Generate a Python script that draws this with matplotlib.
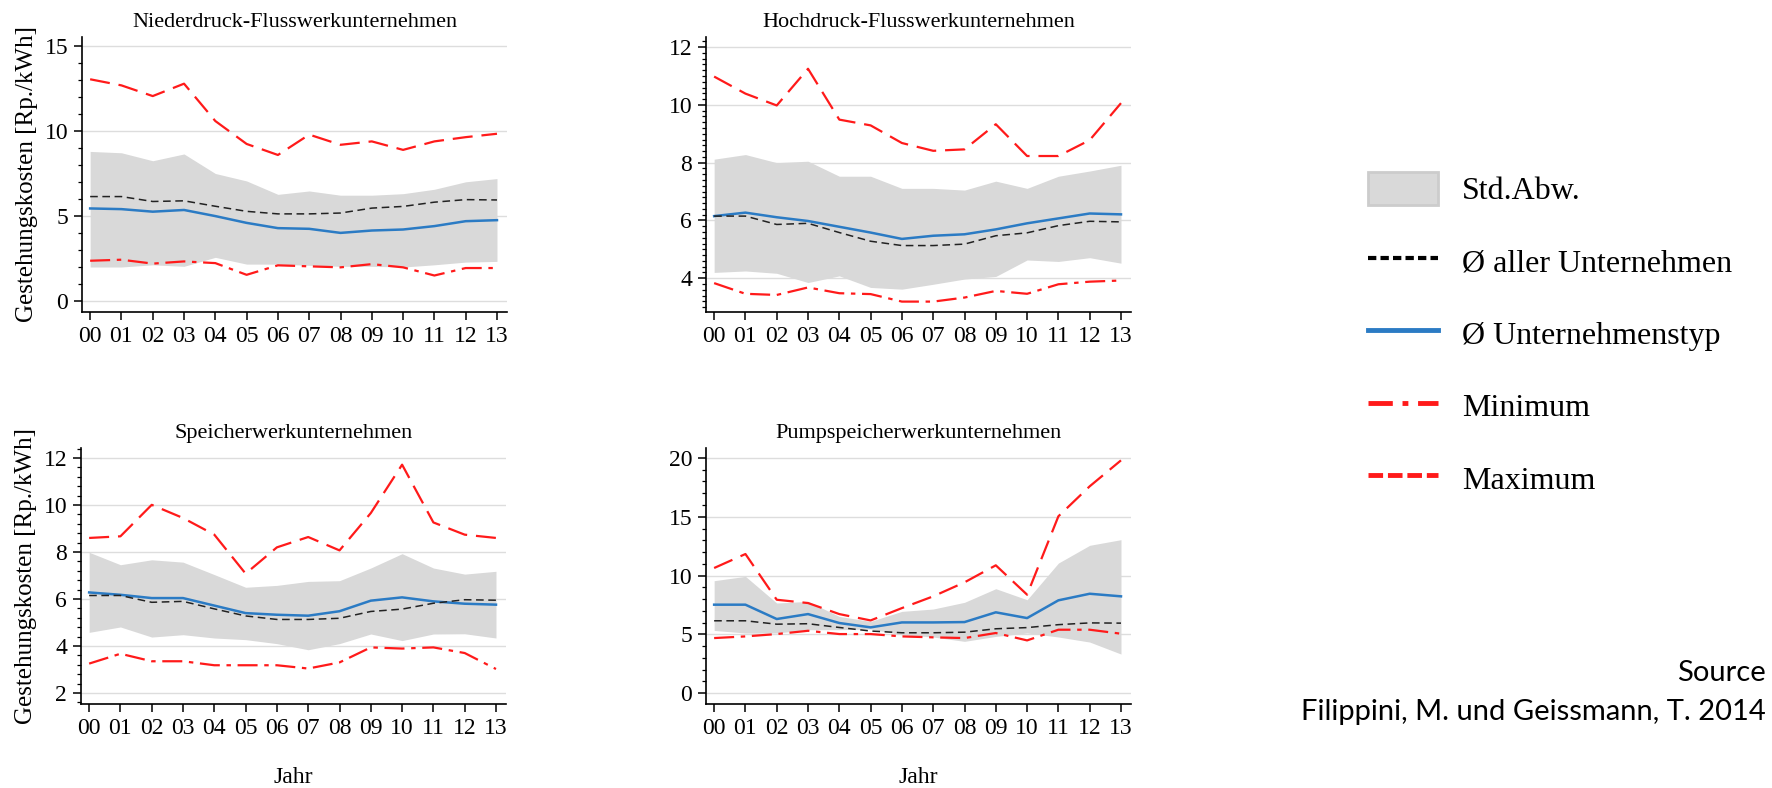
import numpy as np
import matplotlib
matplotlib.use("Agg")
import matplotlib.pyplot as plt
from matplotlib.lines import Line2D
from matplotlib.patches import Patch
from matplotlib.ticker import MultipleLocator

plt.rcParams["font.family"] = ["Liberation Serif", "DejaVu Serif"]

years = ["00", "01", "02", "03", "04", "05", "06", "07", "08", "09", "10", "11", "12", "13"]

# Ø aller Unternehmen (same in every panel)
avg_all = [6.15, 6.15, 5.86, 5.9, 5.58, 5.28, 5.13, 5.13, 5.18, 5.47, 5.57, 5.82, 5.97, 5.95]

# Niederdruck-Flusswerkunternehmen
nd_type = [5.45, 5.41, 5.26, 5.36, 5.0, 4.6, 4.29, 4.25, 4.01, 4.15, 4.21, 4.41, 4.7, 4.76]
nd_sd_hi = [8.81, 8.73, 8.26, 8.66, 7.51, 7.07, 6.28, 6.48, 6.23, 6.23, 6.32, 6.58, 7.02, 7.21]
nd_sd_lo = [2.0, 2.0, 2.13, 2.04, 2.57, 2.17, 2.17, 2.1, 2.04, 2.04, 2.0, 2.13, 2.29, 2.33]
nd_min = [2.37, 2.43, 2.2, 2.33, 2.23, 1.54, 2.1, 2.04, 1.98, 2.17, 1.98, 1.5, 1.94, 1.94]
nd_max = [13.06, 12.7, 12.07, 12.8, 10.6, 9.25, 8.6, 9.8, 9.2, 9.4, 8.9, 9.4, 9.65, 9.85]

# Hochdruck-Flusswerkunternehmen
hd_type = [6.15, 6.27, 6.11, 5.98, 5.78, 5.58, 5.36, 5.47, 5.52, 5.69, 5.9, 6.07, 6.24, 6.21]
hd_sd_hi = [8.12, 8.28, 8.0, 8.05, 7.53, 7.53, 7.11, 7.11, 7.05, 7.36, 7.11, 7.53, 7.71, 7.91]
hd_sd_lo = [4.2, 4.25, 4.17, 3.85, 4.08, 3.68, 3.62, 3.79, 3.97, 4.06, 4.63, 4.58, 4.71, 4.52]
hd_min = [3.83, 3.46, 3.42, 3.68, 3.48, 3.45, 3.19, 3.19, 3.33, 3.56, 3.46, 3.79, 3.88, 3.92]
hd_max = [10.98, 10.39, 9.98, 11.25, 9.49, 9.29, 8.68, 8.41, 8.46, 9.33, 8.23, 8.23, 8.78, 10.06]

# Speicherwerkunternehmen
sp_type = [6.28, 6.18, 6.04, 6.04, 5.72, 5.4, 5.33, 5.29, 5.48, 5.93, 6.07, 5.9, 5.8, 5.76]
sp_sd_hi = [7.99, 7.46, 7.67, 7.57, 7.04, 6.5, 6.58, 6.75, 6.78, 7.32, 7.93, 7.32, 7.06, 7.18]
sp_sd_lo = [4.58, 4.81, 4.38, 4.48, 4.34, 4.27, 4.1, 3.84, 4.1, 4.51, 4.23, 4.51, 4.52, 4.34]
sp_min = [3.25, 3.67, 3.35, 3.35, 3.18, 3.18, 3.18, 3.04, 3.3, 3.94, 3.89, 3.94, 3.7, 3.02]
sp_max = [8.6, 8.67, 10.01, 9.45, 8.74, 7.08, 8.2, 8.64, 8.07, 9.66, 11.72, 9.26, 8.74, 8.6]

# Pumpspeicherwerkunternehmen
ps_type = [7.52, 7.52, 6.3, 6.72, 5.96, 5.59, 6.01, 6.01, 6.04, 6.87, 6.38, 7.89, 8.45, 8.23]
ps_sd_hi = [9.56, 9.93, 7.66, 7.8, 6.52, 6.1, 6.95, 7.15, 7.72, 8.88, 7.94, 11.06, 12.57, 13.05]
ps_sd_lo = [5.33, 5.11, 5.11, 5.39, 5.39, 5.45, 4.96, 4.77, 4.4, 4.82, 5.11, 4.77, 4.34, 3.32]
ps_min = [4.68, 4.82, 5.02, 5.3, 5.02, 5.02, 4.82, 4.74, 4.68, 5.11, 4.48, 5.39, 5.39, 5.05]
ps_max = [10.64, 11.83, 7.94, 7.66, 6.72, 6.18, 7.23, 8.23, 9.42, 10.87, 8.37, 15.04, 17.59, 19.8]

RED = "#ff1a1a"
BLUE = "#2b7bc4"
GRAY = "#d9d9d9"
MIN_DASH = (9, 3, 2, 3)
MAX_DASH = (9, 4)

panels = [
    ("Niederdruck-Flusswerkunternehmen", nd_type, nd_sd_hi, nd_sd_lo, nd_min, nd_max,
     (-0.65, 15.55), 5, 1, [82, 37, 507, 312]),
    ("Hochdruck-Flusswerkunternehmen", hd_type, hd_sd_hi, hd_sd_lo, hd_min, hd_max,
     (2.83, 12.35), 2, 0.2, [706, 37, 1131, 312]),
    ("Speicherwerkunternehmen", sp_type, sp_sd_hi, sp_sd_lo, sp_min, sp_max,
     (1.53, 12.43), 2, 0.4, [81, 448, 506, 704]),
    ("Pumpspeicherwerkunternehmen", ps_type, ps_sd_hi, ps_sd_lo, ps_min, ps_max,
     (-0.93, 20.85), 5, 1, [706, 448, 1131, 704]),
]

W, H = 1772, 788
fig = plt.figure(figsize=(W / 100, H / 100), dpi=100)
x = np.arange(len(years))

for i, (title, typ, hi, lo, mn, mx, ylim, major, minor, box) in enumerate(panels):
    l, t, r, b = box
    ax = fig.add_axes([l / W, 1 - b / H, (r - l) / W, (b - t) / H])
    ax.fill_between(x, lo, hi, color=GRAY, linewidth=0, zorder=1)
    ax.plot(x, mx, color=RED, linewidth=1.6, dashes=MAX_DASH, zorder=3)
    ax.plot(x, mn, color=RED, linewidth=1.6, dashes=MIN_DASH, zorder=3)
    ax.plot(x, typ, color=BLUE, linewidth=1.8, zorder=4)
    ax.plot(x, avg_all, color="#222222", linewidth=1.1, dashes=(5, 3), zorder=5)

    ax.set_xlim(-0.26, 13.32)
    ax.set_ylim(*ylim)
    ax.set_xticks(x)
    ax.set_xticklabels(years)
    ax.yaxis.set_major_locator(MultipleLocator(major))
    ax.yaxis.set_minor_locator(MultipleLocator(minor))
    ax.grid(True, axis="y", color="#dddddd", linewidth=1.0, zorder=0)
    ax.set_axisbelow(True)
    for side in ("top", "right"):
        ax.spines[side].set_visible(False)
    for side in ("left", "bottom"):
        ax.spines[side].set_linewidth(1.2)
    ax.tick_params(axis="both", which="major", labelsize=17, length=6, width=1.1, pad=4)
    ax.tick_params(axis="y", which="minor", length=3, width=0.9)
    ax.set_title(title, fontsize=16, pad=7)
    if i % 2 == 0:
        ax.set_ylabel("Gestehungskosten [Rp./kWh]", fontsize=18, labelpad=5)
    if i >= 2:
        ax.set_xlabel("Jahr", fontsize=17, labelpad=20)

handles = [
    Patch(facecolor=GRAY, edgecolor="#cccccc", linewidth=2),
    Line2D([], [], color="black", linewidth=3, dashes=(2, 1)),
    Line2D([], [], color=BLUE, linewidth=3.5),
    Line2D([], [], color=RED, linewidth=3.5, dashes=(5, 2, 1.2, 2)),
    Line2D([], [], color=RED, linewidth=3.5, dashes=(3, 1)),
]
labels = ["Std.Abw.", "Ø aller Unternehmen", "Ø Unternehmenstyp", "Minimum", "Maximum"]
fig.legend(handles, labels, loc="upper left", bbox_to_anchor=(1355 / W, 1 - 159 / H),
           frameon=False, fontsize=23, labelspacing=1.2, handlelength=2.2,
           handleheight=1.2, handletextpad=0.75, borderaxespad=0)

src_font = ["Lato", "DejaVu Sans"]
fig.text(1766 / W, 1 - 673 / H, "Source", fontsize=21, family=src_font,
         va="center", ha="right")
fig.text(1766 / W, 1 - 712 / H, "Filippini, M. und Geissmann, T. 2014", fontsize=21,
         family=src_font, va="center", ha="right")

fig.savefig("out.png", dpi=100)
